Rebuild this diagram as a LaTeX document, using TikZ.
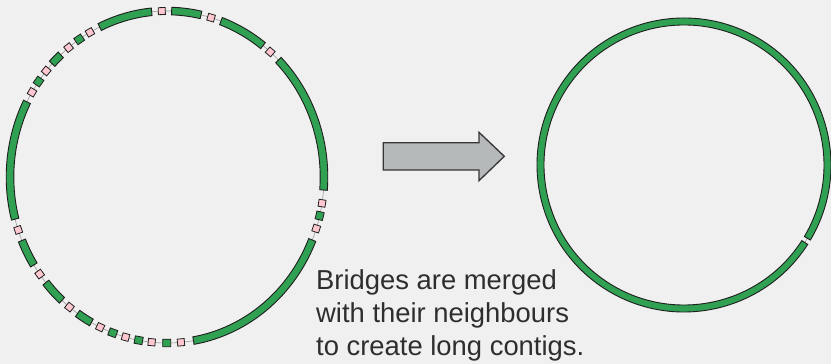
\documentclass[tikz,border=0pt]{standalone}
\usepackage{fontspec}
\setmainfont{Liberation Sans}
\definecolor{bgc}{HTML}{F0F0F0}
\definecolor{contig}{HTML}{30A052}
\definecolor{bridge}{HTML}{FFC8D0}
\definecolor{edgec}{HTML}{1E1E1E}
\definecolor{arrowfill}{HTML}{B5B9B9}
\definecolor{txtc}{HTML}{2E2E2E}
\tikzset{
  seg/.style={draw=edgec, fill=contig, line width=0.9pt, line join=miter},
  pinkbox/.style={draw=edgec, fill=bridge, line width=0.8pt, minimum width=7pt, minimum height=7pt, inner sep=0pt, outer sep=0pt},
  greenbox/.style={draw=edgec, fill=contig, line width=0.8pt, minimum width=8pt, minimum height=7.5pt, inner sep=0pt, outer sep=0pt},
  backbone/.style={draw=gray!80, line width=0.6pt},
  caption/.style={anchor=base west, inner sep=0pt, text=txtc, font=\fontsize{27.4}{33}\selectfont}
}
% left ellipse segments: #1 start, #2 end (parametric angles)
\newcommand{\lseg}[2]{\draw[seg] (#1:160.8 and 169.8) arc[start angle=#1,end angle=#2,x radius=160.8,y radius=169.8] -- (#2:153.2 and 162.2) arc[start angle=#2,end angle=#1,x radius=153.2,y radius=162.2] -- cycle;}
\newcommand{\lpink}[2]{\node[pinkbox, rotate=#2] (#1) at (#2:157 and 166) {};}
\newcommand{\lgreen}[2]{\node[greenbox, rotate=#2-90] (#1) at (#2:157 and 166) {};}
\begin{document}
\begin{tikzpicture}[x=1pt,y=1pt]
\fill[bgc] (0,0) rectangle (831,364);
\useasboundingbox (0,0) rectangle (831,364);

% ---------- left: fragmented assembly ----------
\begin{scope}[shift={(167,187)}]
  \draw[backbone] (0,0) ellipse[x radius=157, y radius=166];
  \lseg{77.5}{88.3}
  \lseg{52.3}{69.9}
  \lseg{-4.5}{44.8}
  \lseg{-80.3}{-22.3}
  \lseg{-124.7}{-118.8}
  \lseg{-140.5}{-132}
  \lseg{-157.5}{-148}
  \lseg{153.1}{194.7}
  \lseg{132.6}{137}
  \lseg{95.6}{115.4}
  \lgreen{g1}{-13.5}
  \lgreen{g2}{-90.1}
  \lgreen{g3}{-100.4}
  \lgreen{g4}{-110.2}
  \lgreen{g5}{144.9}
  \lgreen{g6}{124}
  \lpink{p1}{91.9}
  \lpink{p2}{73.7}
  \lpink{p3}{48.9}
  \lpink{p4}{-9.1}
  \lpink{p5}{-18.1}
  \lpink{p6}{-84.9}
  \lpink{p7}{-95.6}
  \lpink{p8}{-105.3}
  \lpink{p9}{-115.2}
  \lpink{p10}{-128.4}
  \lpink{p11}{-144.2}
  \lpink{p12}{-161.4}
  \lpink{p13}{149.3}
  \lpink{p14}{140.3}
  \lpink{p15}{128.8}
  \lpink{p16}{119.4}
\end{scope}

% ---------- arrow ----------
\draw[draw=edgec!90, fill=arrowfill, line width=1.3pt, line join=miter]
  (383.3,194) -- (383.3,221.3) -- (479,221.3) -- (479,231.7) -- (504.3,207.7)
  -- (479,183.3) -- (479,194) -- cycle;

% ---------- right: merged contig ----------
\begin{scope}[shift={(684,199)}]
  \draw[backbone] (0,0) circle[radius=143.5];
  \draw[seg] (-30.7:147) arc[start angle=-30.7,end angle=327.3,radius=147]
    -- (327.3:140) arc[start angle=327.3,end angle=-30.7,radius=140] -- cycle;
\end{scope}

% ---------- caption ----------
\node[caption] (t1) at (316,74) {Bridges are merged};
\node[caption] (t2) at (316,41) {with their neighbours};
\node[caption] (t3) at (316,8) {to create long contigs.};
\end{tikzpicture}
\end{document}
